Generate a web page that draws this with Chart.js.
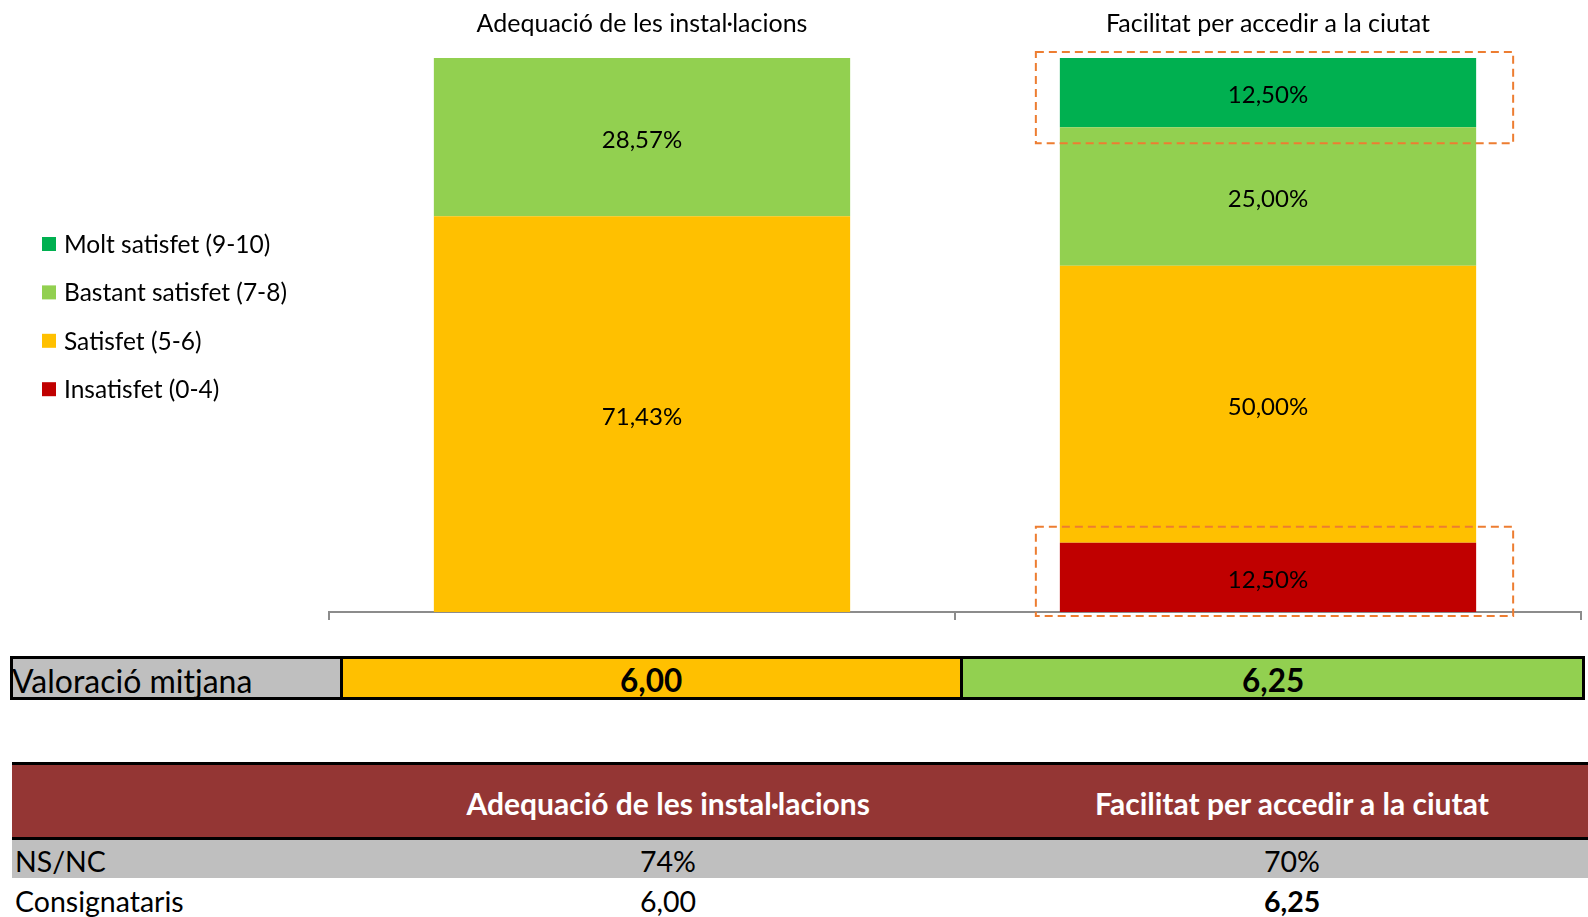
<!DOCTYPE html>
<html><head><meta charset="utf-8">
<script src="https://cdn.jsdelivr.net/npm/chart.js@4.4.0/dist/chart.umd.min.js"></script>
<style>
html,body{margin:0;padding:0;background:#fff;width:1588px;height:917px;overflow:hidden;font-family:Lato,sans-serif;}
#wrap{position:absolute;left:0;top:0;width:1588px;height:640px;}
.abs{position:absolute;box-sizing:border-box;}
.txt{position:absolute;white-space:nowrap;line-height:1;}
</style></head><body>
<div id="wrap"><canvas id="c" width="1588" height="640"></canvas></div>
<div id="extra"></div>
<script>
// ---- data ----
const categories = ['Adequació de les instal·lacions', 'Facilitat per accedir a la ciutat'];
const seriesNames = ['Insatisfet (0-4)', 'Satisfet (5-6)', 'Bastant satisfet (7-8)', 'Molt satisfet (9-10)'];
const insatisfet = [0, 12.5];
const satisfet = [71.43, 50];
const bastant = [28.57, 25];
const molt = [0, 12.5];
const mitjana = [6.00, 6.25];
const nsnc = [74, 70];
const consignataris = [6.00, 6.25];
const rowLabels = ['NS/NC', 'Consignataris'];
const mitjanaLabel = 'Valoració mitjana';

// ---- styles ----
const colors = ['#C00000', '#FFC000', '#92D050', '#00B050'];
const FONT = 'Lato, sans-serif';
const fmt = (v, d) => v.toFixed(d).replace('.', ',');

const segLabels = {
  id: 'segLabels',
  afterDatasetsDraw(chart) {
    const ctx = chart.ctx;
    ctx.save();
    ctx.font = '24px ' + FONT;
    ctx.fillStyle = '#000';
    ctx.textAlign = 'center';
    ctx.textBaseline = 'middle';
    chart.data.datasets.forEach((ds, i) => {
      const meta = chart.getDatasetMeta(i);
      meta.data.forEach((el, j) => {
        const v = ds.data[j];
        if (!v) return;
        const p = el.getProps(['x', 'y', 'base'], true);
        ctx.fillText(fmt(v, 2) + '%', p.x, (p.y + p.base) / 2 + 3);
      });
    });
    ctx.restore();
  }
};

const highlightBoxes = {
  id: 'highlightBoxes',
  afterDatasetsDraw(chart, args, opts) {
    const ctx = chart.ctx;
    ctx.save();
    ctx.strokeStyle = '#ED7D31';
    ctx.lineWidth = 2;
    ctx.setLineDash([8, 5]);
    (opts.boxes || []).forEach(b => {
      const el = chart.getDatasetMeta(b.dataset).data[b.index];
      const p = el.getProps(['x', 'y', 'base', 'width'], true);
      const l = p.x - p.width / 2 - b.pad[0];
      const r = p.x + p.width / 2 + b.pad[2];
      const t = p.y - b.pad[1];
      const bt = p.base + b.pad[3];
      ctx.strokeRect(l, t, r - l, bt - t);
    });
    ctx.restore();
  }
};

const sideLegend = {
  id: 'sideLegend',
  afterDraw(chart) {
    const ctx = chart.ctx;
    ctx.save();
    ctx.font = '24.5px ' + FONT;
    ctx.textBaseline = 'middle';
    ctx.textAlign = 'left';
    const ds = chart.data.datasets.slice().reverse();
    ds.forEach((d, k) => {
      const yc = 244 + k * 48.4;
      ctx.fillStyle = d.backgroundColor;
      ctx.fillRect(42, yc - 7, 14, 14);
      ctx.fillStyle = '#000';
      ctx.fillText(d.label, 64, yc + 1);
    });
    ctx.restore();
  }
};

const seriesData = [insatisfet, satisfet, bastant, molt];
new Chart(document.getElementById('c'), {
  type: 'bar',
  data: {
    labels: categories,
    datasets: seriesNames.map((n, i) => ({
      label: n,
      data: seriesData[i],
      backgroundColor: colors[i],
      borderWidth: 0,
      categoryPercentage: 1,
      barPercentage: 0.665,
      xAxisID: 'x'
    }))
  },
  options: {
    responsive: false,
    animation: false,
    devicePixelRatio: 1,
    layout: { padding: { left: 329, right: 7, top: 0, bottom: 0 } },
    plugins: {
      legend: { display: false },
      tooltip: { enabled: false },
      highlightBoxes: {
        boxes: [
          { dataset: 3, index: 1, pad: [24, 6, 37, 16] },
          { dataset: 0, index: 1, pad: [24, 16, 37, 4] }
        ]
      }
    },
    scales: {
      x: {
        type: 'category',
        position: 'top',
        stacked: true,
        offset: true,
        grid: { display: false, drawTicks: false, offset: true },
        border: { display: false },
        ticks: { color: '#000', font: { family: FONT, size: 25 }, padding: 19, maxRotation: 0, autoSkip: false },
        afterFit: s => { s.height = 58; }
      },
      x2: {
        type: 'category',
        position: 'bottom',
        labels: categories,
        offset: true,
        grid: { display: true, drawOnChartArea: false, drawTicks: true, tickLength: 8, offset: true, color: '#8c8c8c', lineWidth: 2 },
        border: { display: true, color: '#8c8c8c', width: 2 },
        ticks: { display: false },
        afterFit: s => { s.height = 28; }
      },
      y: { display: false, stacked: true, min: 0, max: 100 }
    }
  },
  plugins: [segLabels, highlightBoxes, sideLegend]
});

// ---- valoració mitjana row & table (HTML) ----
const ex = document.getElementById('extra');
function box(l, t, w, h, css) {
  const d = document.createElement('div');
  d.className = 'abs';
  d.style.cssText += `left:${l}px;top:${t}px;width:${w}px;height:${h}px;` + (css || '');
  ex.appendChild(d);
  return d;
}
function txt(s, x, yc, css, center) {
  const d = document.createElement('div');
  d.className = 'txt';
  d.textContent = s;
  d.style.cssText += css || '';
  ex.appendChild(d);
  const w = d.offsetWidth, h = d.offsetHeight;
  d.style.left = (center ? x - w / 2 : x) + 'px';
  d.style.top = (yc - h / 2) + 'px';
  return d;
}
const valColors = ['#FFC000', '#92D050'];
box(10, 656, 333, 44, 'border:3px solid #000;background:#BFBFBF;');
box(340, 656, 623, 44, `border:3px solid #000;background:${valColors[0]};`);
box(960, 656, 625, 44, `border:3px solid #000;background:${valColors[1]};`);
txt(mitjanaLabel, 12, 681, 'font-size:32px;color:#000;');
const valCenters = [651, 1273];
mitjana.forEach((v, i) => txt(fmt(v, 2), valCenters[i], 681, 'font-size:31.5px;font-weight:bold;color:#000;', true));

box(12, 762, 1576, 4, 'background:#000;');
box(12, 765, 1576, 72, 'background:#943634;');
box(12, 837, 1576, 3, 'background:#000;');
box(12, 840, 1576, 38, 'background:#BFBFBF;');
const tblCenters = [668, 1292];
categories.forEach((c, i) => txt(c, tblCenters[i], 803, 'font-size:30px;font-weight:bold;color:#fff;', true));
txt(rowLabels[0], 15, 861, 'font-size:28.5px;color:#000;');
txt(rowLabels[1], 15, 901, 'font-size:28.5px;color:#000;');
nsnc.forEach((v, i) => txt(v + '%', tblCenters[i], 861, 'font-size:28.5px;color:#000;', true));
consignataris.forEach((v, i) => txt(fmt(v, 2), tblCenters[i], 901, 'font-size:28.5px;color:#000;' + (i === 1 ? 'font-weight:bold;' : ''), true));
</script>
</body></html>
